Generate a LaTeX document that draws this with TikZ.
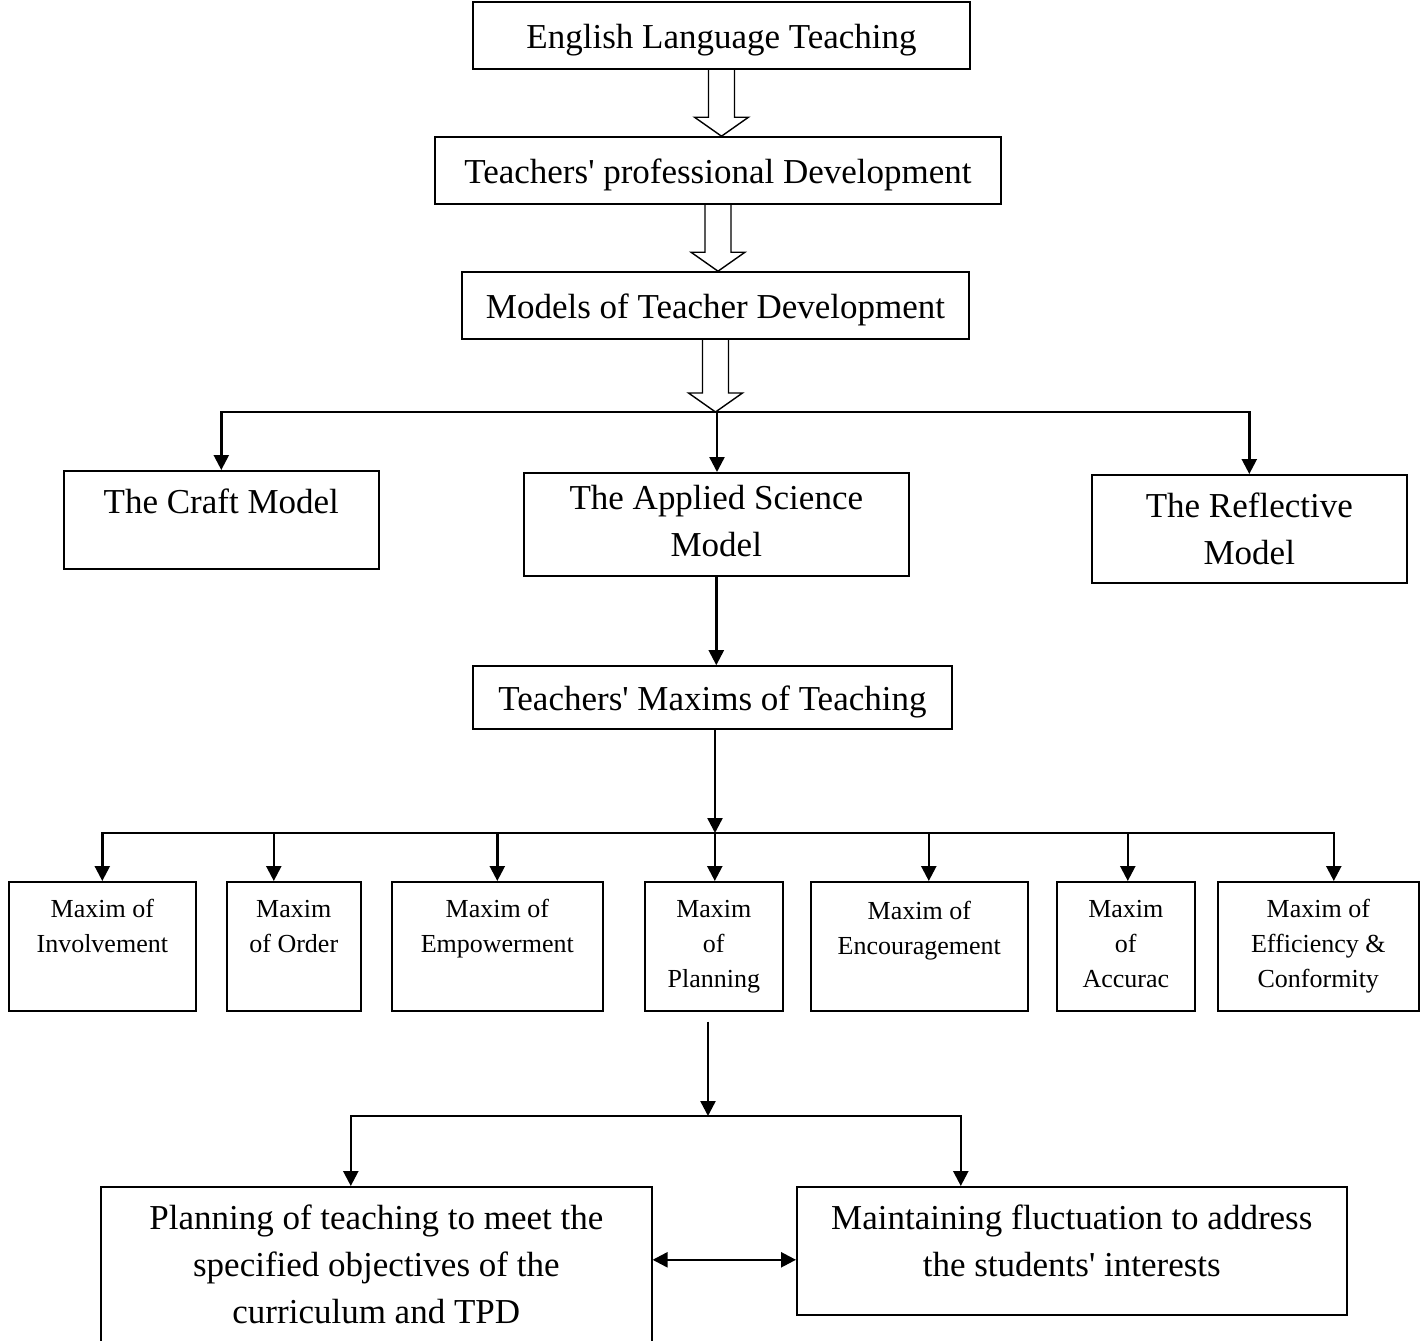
\documentclass[tikz,border=0pt]{standalone}
\usepackage{fontspec}
\setmainfont{Liberation Serif}
\usetikzlibrary{arrows.meta,calc}

\begin{document}
\begin{tikzpicture}[x=1pt,y=-1pt,
    box/.style={draw,line width=1.6pt,align=center,inner ysep=0pt,font=\fontsize{35}{47}\selectfont},
    linebox/.style={box,text height=26pt,text depth=0pt,minimum height=#1},
    topbox/.style={box,anchor=north west,text height=43pt},
    maxim/.style={box,anchor=north west,font=\fontsize{26}{35}\selectfont,text height=71pt,text depth=58pt},
    maxim3/.style={maxim,text height=106pt,text depth=23pt},
    arr/.style={line width=2.4pt,-{Triangle[length=15pt,width=15pt]}},
    dbl/.style={line width=2.4pt,{Triangle[length=15pt,width=15pt]}-{Triangle[length=15pt,width=15pt]}},
    hollowto/.style={line width=1.4pt,to path={($(\tikztostart)+(-13,0)$) -- ($(\tikztotarget)+(-13,-19)$) -- ($(\tikztotarget)+(-27,-19)$) -- (\tikztotarget) -- ($(\tikztotarget)+(27,-19)$) -- ($(\tikztotarget)+(13,-19)$) -- ($(\tikztostart)+(13,0)$)}}]
    \useasboundingbox (0,0) rectangle (1425,1341);
    % top chain
    \node[linebox=67pt,minimum width=497pt] (elt) at (721.5,35.5) {English Language Teaching};
    \node[linebox=67pt,minimum width=566pt] (tpd) at (718,170.5) {Teachers\textquotesingle{} professional Development};
    \node[linebox=67pt,minimum width=507pt] (mtd) at (715.5,305.5) {Models of Teacher Development};
    \draw[hollowto] (elt.south) to (elt.south |- tpd.north);
    \draw[hollowto] (tpd.south) to (tpd.south |- mtd.north);
    % models
    \node[topbox,minimum width=315pt,text depth=55pt] (craft) at (63,470) {The Craft Model};
    \node[topbox,minimum width=385pt,text height=84pt,text depth=19pt] (applied) at (523,472) {The Applied Science\\Model};
    \node[topbox,minimum width=315pt,text height=90pt,text depth=18pt] (refl) at (1091,474) {The Reflective\\Model};
    \coordinate (jm) at (717,412);
    \draw[hollowto] (mtd.south) to (mtd.south |- jm);
    \draw[arr] (jm) -| (craft.north);
    \draw[arr] (jm) -| (refl.north);
    \draw[arr] (jm) -- (jm |- applied.north);
    \node[linebox=63pt,minimum width=479pt] (maxims) at (712.5,697.5) {Teachers\textquotesingle{} Maxims of Teaching};
    \draw[arr] (applied.south) -- (applied.south |- maxims.north);
    % maxims
    \node[maxim,minimum width=187pt] (m1) at (8,881) {Maxim of\\Involvement};
    \node[maxim,minimum width=134pt] (m2) at (226,881) {Maxim\\of Order};
    \node[maxim,minimum width=211pt] (m3) at (391,881) {Maxim of\\Empowerment};
    \node[maxim3,minimum width=138pt] (m4) at (644,881) {Maxim\\of\\Planning};
    \node[maxim,minimum width=217pt,text height=73pt,text depth=56pt] (m5) at (810,881) {Maxim of\\Encouragement};
    \node[maxim3,minimum width=138pt] (m6) at (1056,881) {Maxim\\of\\Accurac};
    \node[maxim3,minimum width=201pt] (m7) at (1217,881) {Maxim of\\Efficiency \&\\Conformity};
    \coordinate (jx) at (715,833);
    \draw[arr] (maxims.south -| jx) -- (jx);
    \foreach \m/\s in {m1/0,m2/-20,m3/0,m4/1,m5/9.5,m6/2,m7/15.5}
        \draw[arr] (jx) -| ([xshift=\s pt]\m.north);
    % planning
    \node[topbox,minimum width=551pt,text height=137pt,text depth=19pt] (pl) at (100,1186) {Planning of teaching to meet the\\specified objectives of the\\curriculum and TPD};
    \node[topbox,minimum width=550pt,text height=90pt,text depth=38pt] (mf) at (796,1186) {Maintaining fluctuation to address\\the students\textquotesingle{} interests};
    \coordinate (jp) at (708,1116);
    \draw[arr] (m4.south -| jp) ++(0,10) -- (jp);
    \draw[arr] (jp) -| ([xshift=-25.5pt]pl.north);
    \draw[arr] (jp) -| ([xshift=-111pt]mf.north);
    \coordinate (ja) at ([yshift=-9pt]mf.west);
    \draw[dbl] (pl.east |- ja) -- (ja);
\end{tikzpicture}
\end{document}
